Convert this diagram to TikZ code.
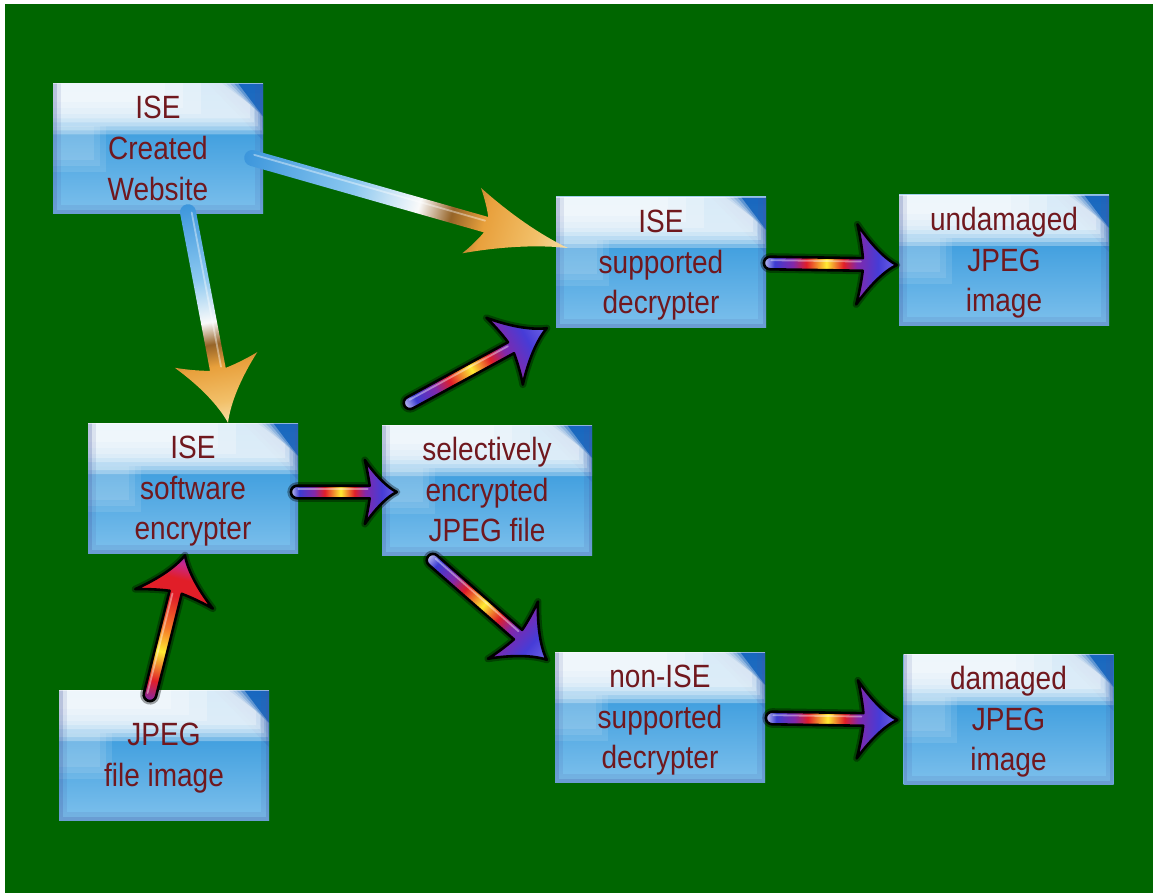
\documentclass[tikz,border=0pt]{standalone}
\usepackage{fontspec}
\setmainfont{Liberation Sans}
\usetikzlibrary{calc}
\definecolor{bggreen}{RGB}{0,102,0}
\definecolor{txtc}{RGB}{112,24,30}
\definecolor{boxtop}{RGB}{30,140,215}
\definecolor{boxbot}{RGB}{125,192,236}
\definecolor{hl}{RGB}{200,228,248}
\definecolor{boxdark}{RGB}{20,70,170}
\definecolor{edgec}{RGB}{70,85,160}
% rainbow colours
\definecolor{rbA}{RGB}{190,190,240}
\definecolor{rbB}{RGB}{60,60,210}
\definecolor{rbP}{RGB}{130,40,170}
\definecolor{rbR}{RGB}{225,30,40}
\definecolor{rbY}{RGB}{255,235,50}
\definecolor{rbBl}{RGB}{70,60,215}
\definecolor{rbBl2}{RGB}{110,100,230}
\definecolor{rbM}{RGB}{200,40,140}
\definecolor{rbO}{RGB}{245,120,40}
% orange colours
\definecolor{orA}{RGB}{60,150,220}
\definecolor{orB}{RGB}{140,200,240}
\definecolor{orW}{RGB}{250,250,250}
\definecolor{orBr}{RGB}{150,100,40}
\definecolor{orO}{RGB}{232,160,60}
\definecolor{orG}{RGB}{242,192,105}
\definecolor{orL}{RGB}{248,222,165}
\pgfdeclarehorizontalshading{rainbowsh}{100bp}{color(0bp)=(rbA); color(25bp)=(rbA); color(29bp)=(rbB); color(36bp)=(rbP); color(41bp)=(rbR); color(48.5bp)=(rbY); color(55bp)=(rbR); color(60bp)=(rbP); color(68bp)=(rbBl); color(75bp)=(rbBl2); color(100bp)=(rbBl2)}
\pgfdeclarehorizontalshading{rainbowred}{100bp}{color(0bp)=(rbP); color(25bp)=(rbP); color(32bp)=(rbR); color(42bp)=(rbY); color(50bp)=(rbO); color(61bp)=(rbR); color(67bp)=(rbR); color(72bp)=(rbM); color(75bp)=(rbP); color(100bp)=(rbP)}
\pgfdeclarehorizontalshading{orangesh}{100bp}{color(0bp)=(orA); color(25bp)=(orA); color(42bp)=(orB); color(52bp)=(orW); color(57bp)=(orBr); color(62bp)=(orO); color(70bp)=(orG); color(75bp)=(orL); color(100bp)=(orL)}
\tikzset{
  box/.style={minimum width=210pt, minimum height=130pt, inner sep=0pt,
    align=center, text=txtc, font=\fontsize{28}{35.5}\selectfont},
  rbshadow/.style={draw=black, draw opacity=0.35, line width=7pt, line join=round},
  rboutline/.style={draw=black, line width=2.6pt, line join=round},
  orshadow/.style={},
  oroutline/.style={},
}
\newcommand\glossybox[4]{%
  \begin{scope}[shift={(#2,#3)}]
    \clip (-105,-65) rectangle (105,65);
    \shade[top color=boxtop, bottom color=boxbot] (-105,-65) rectangle (105,65);
    \foreach \d in {-12,-6,0,6}{
      \fill[boxdark, opacity=0.16] ({62+\d},-65) -- (105,-65) -- (105,{-20-\d}) -- cycle;
    }
    \foreach \d in {8,4,0,-4,-8}{
      \fill[white, opacity=0.3] (-105,-65) -- ({72+\d},-65) -- ({100+\d},{-36+\d}) -- ({100+\d},{-22+\d}) -- (-105,{-22+\d}) -- cycle;
    }
    \foreach \d in {6,0,-6}{
      \fill[white, opacity=0.25] (-105,-65) rectangle ({25+3*\d},{-40+\d});
    }
    \foreach \d in {6,0,-6}{
      \fill[white, opacity=0.1] (-105,-22) rectangle ({-58+\d},{18+\d});
    }
    \draw[edgec, line width=16pt, opacity=0.12] (-105,-65) -- (-105,65) -- (105,65) -- (105,-65);
    \draw[edgec, line width=7pt, opacity=0.22] (-105,-65) -- (-105,65) -- (105,65) -- (105,-65);
    \draw[white, line width=2pt, opacity=0.5] (-105,-65) -- (105,-65);
  \end{scope}
  \node[box] (#1) at (#2,#3) {\raisebox{-3pt}[\height][\depth]{\scalebox{1}[1.15]{\begin{tabular}{@{}c@{}}#4\end{tabular}}}};
}
% #1 from, #2 to, #3 shading, #4 head length, #5 head half width, #6 shaft half width, #7 kind (rb/or)
\newcommand\fancyarrow[7]{%
  \pgfpointanchor{#1}{center}\pgfgetlastxy{\arAx}{\arAy}%
  \pgfpointanchor{#2}{center}\pgfgetlastxy{\arBx}{\arBy}%
  \pgfmathsetmacro\arAng{atan2((\arBy)-(\arAy),(\arBx)-(\arAx))}%
  \pgfmathsetmacro\arL{veclen((\arBx)-(\arAx),(\arBy)-(\arAy))}%
  \pgfmathsetmacro\arXb{\arL-#4}%
  \pgfmathsetmacro\arXj{\arL-0.85*#4}%
  \begin{scope}[transform canvas={shift={(\arAx,\arAy)},rotate=\arAng}]
    \def\arpath{(0,-#6) -- (\arXj,-#6)
      .. controls ({\arXj-0.03*#4},{-0.45*#5}) and ({\arXb+0.05*#4},{-0.8*#5}) .. (\arXb,-#5)
      .. controls ({\arXb+0.35*#4},{-0.5*#5}) and ({\arL-0.3*#4},{-0.15*#5}) .. (\arL,0)
      .. controls ({\arL-0.3*#4},{0.15*#5}) and ({\arXb+0.35*#4},{0.5*#5}) .. (\arXb,#5)
      .. controls ({\arXb+0.05*#4},{0.8*#5}) and ({\arXj-0.03*#4},{0.45*#5}) .. (\arXj,#6)
      -- (0,#6) arc[start angle=90,end angle=270,radius=#6] -- cycle}%
    \path[#7shadow] \arpath;
    \shade[shading=#3] \arpath;
    \draw[white, opacity=0.4, line width=1.8pt, line cap=round] (1,{-0.45*#6}) -- ({\arXj-2},{-0.45*#6});
    \path[#7outline] \arpath;
  \end{scope}
}
\begin{document}
\begin{tikzpicture}[x=1pt,y=-1pt]
\useasboundingbox (0,0) rectangle (1153,893);
\fill[white] (0,0) rectangle (1153,893);
\fill[bggreen] (5,4) rectangle (1153,893);

\glossybox{web}{158}{148.5}{ISE\\Created\\Website}
\glossybox{sup}{661}{262}{ISE\\supported\\decrypter}
\glossybox{und}{1004}{260}{undamaged\\JPEG\\image}
\glossybox{enc}{193}{488}{ISE\\software\\encrypter}
\glossybox{sel}{487}{490}{selectively\\encrypted\\JPEG file}
\glossybox{non}{660}{717}{non-ISE\\supported\\decrypter}
\glossybox{dam}{1008.5}{719}{damaged\\JPEG\\image}
\glossybox{jpg}{164}{755}{JPEG\\file image}

\coordinate (a1s) at ($(web.east)+(-11,9.5)$);
\coordinate (a1e) at ($(sup.west)+(12,-14)$);
\coordinate (a2s) at ($(web.south)+(30,-1.5)$);
\coordinate (a2e) at ($(enc.north)+(35,0)$);
\coordinate (a3s) at ($(jpg.north)+(-14,5)$);
\coordinate (a3e) at ($(enc.south)+(-8,2)$);
\coordinate (a4s) at ($(enc.east)+(-1,4)$);
\coordinate (a4e) at ($(sel.west)+(15,2)$);
\coordinate (a5s) at ($(sel.north)+(-77,-22)$);
\coordinate (a5e) at ($(sup.south west)+(-9,1)$);
\coordinate (a6s) at ($(sel.south)+(-54,5)$);
\coordinate (a6e) at ($(non.north west)+(-8,8)$);
\coordinate (a7s) at ($(sup.east)+(4,1)$);
\coordinate (a7e) at ($(und.west)+(-2,5)$);
\coordinate (a8s) at ($(non.east)+(7,1)$);
\coordinate (a8e) at ($(dam.west)+(-6,1)$);

\fancyarrow{a1s}{a1e}{orangesh}{100}{34}{8}{or}
\fancyarrow{a2s}{a2e}{orangesh}{64}{42}{8}{or}
\fancyarrow{a3s}{a3e}{rainbowred}{45}{40}{6.3}{rb}
\fancyarrow{a4s}{a4e}{rainbowsh}{32}{32}{6.3}{rb}
\fancyarrow{a5s}{a5e}{rainbowsh}{48}{38}{6.3}{rb}
\fancyarrow{a6s}{a6e}{rainbowsh}{45}{38}{6.3}{rb}
\fancyarrow{a7s}{a7e}{rainbowsh}{40}{40}{6.3}{rb}
\fancyarrow{a8s}{a8e}{rainbowsh}{40}{39}{6.3}{rb}
\end{tikzpicture}
\end{document}
